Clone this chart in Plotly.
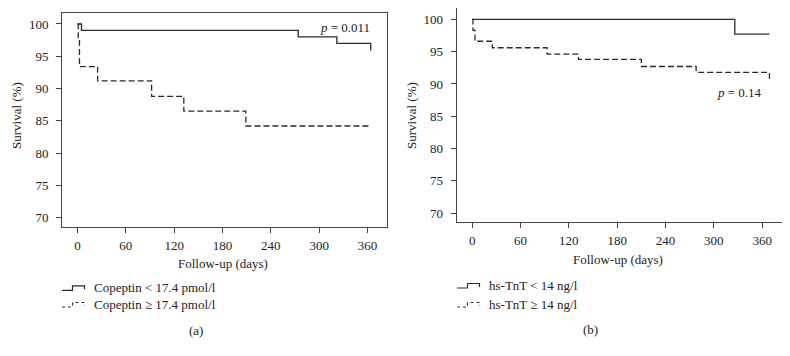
import plotly.graph_objects as go

# ---- data ----
# Panel (a): Copeptin
a_low_days = [0, 5, 274, 322, 364]
a_low_surv = [100, 99.0, 98.0, 97.0, 95.9]
a_high_days = [0, 1, 2.5, 25, 92, 132, 209, 364]
a_high_surv = [100, 97.8, 93.4, 91.2, 88.8, 86.5, 84.2, 84.2]

# Panel (b): hs-TnT
b_low_days = [0, 326, 369]
b_low_surv = [100, 97.7, 97.7]
b_high_days = [0, 1, 3.5, 25, 93, 132, 210, 278, 369]
b_high_surv = [100, 98.3, 96.6, 95.6, 94.6, 93.8, 92.7, 91.8, 90.8]

x_ticks = [0, 60, 120, 180, 240, 300, 360]
y_ticks = [70, 75, 80, 85, 90, 95, 100]

a_labels = ["Copeptin < 17.4 pmol/l", "Copeptin \u2265 17.4 pmol/l"]
b_labels = ["hs-TnT < 14 ng/l", "hs-TnT \u2265 14 ng/l"]
a_p = "<i>p</i> = 0.011"
b_p = "<i>p</i> = 0.14"

# page body has an 8px margin; size the figure to fill the rest of the window
OFF = 8
W, H = 790 - OFF, 356 - OFF
FONT = "Liberation Serif"
LC = "#2b2b2b"
DASH = "6px,3px"

def px(x):
    return (x - OFF) / W

def py(y):
    return 1 - (y - OFF) / H

fig = go.Figure()

for days, surv, dash, xa, ya in [
    (a_low_days, a_low_surv, "solid", "x", "y"),
    (a_high_days, a_high_surv, DASH, "x", "y"),
    (b_low_days, b_low_surv, "solid", "x2", "y2"),
    (b_high_days, b_high_surv, DASH, "x2", "y2"),
]:
    fig.add_trace(go.Scatter(
        x=days, y=surv, mode="lines", line_shape="hv",
        line=dict(color=LC, width=1.3, dash=dash),
        xaxis=xa, yaxis=ya, showlegend=False, hoverinfo="skip"))

axis_common = dict(
    showline=True, linecolor="#444", linewidth=1, mirror=True,
    ticks="outside", ticklen=5, tickcolor="#444", tickwidth=1,
    showgrid=False, zeroline=False,
    tickfont=dict(family=FONT, size=13, color="#222"),
)

fig.update_layout(
    width=W, height=H,
    margin=dict(l=0, r=0, t=0, b=0),
    paper_bgcolor="white", plot_bgcolor="white",
    xaxis=dict(domain=[px(62), px(387)], range=[-19.2, 384.2],
               tickvals=x_ticks, anchor="y", ticklabelstandoff=1, **axis_common),
    yaxis=dict(domain=[py(227), py(13)], range=[68.56, 101.7],
               tickvals=y_ticks, anchor="x", ticklabelstandoff=5, **axis_common),
    xaxis2=dict(domain=[px(456.7), px(781.7)], range=[-19.2, 384.2],
                tickvals=x_ticks, anchor="y2", ticklabelstandoff=1, **axis_common),
    yaxis2=dict(domain=[py(222.3), py(8.3)], range=[68.6, 101.7],
                tickvals=y_ticks, anchor="x2", ticklabelstandoff=5, **axis_common),
)

annots = []

def txt(x, y, s, size=13, xanchor="center", angle=0):
    annots.append(dict(x=px(x), y=py(y), xref="paper", yref="paper",
                       text=s, showarrow=False, xanchor=xanchor, yanchor="middle",
                       textangle=angle,
                       font=dict(family=FONT, size=size, color="#222")))

# axis titles
txt(17, 116, "Survival (%)", angle=-90)
txt(412, 116, "Survival (%)", angle=-90)
txt(223, 263, "Follow-up (days)")
txt(618, 259, "Follow-up (days)")
# p-values
txt(345, 27, a_p)
txt(739, 92.7, b_p)
# captions
txt(195.7, 330, "(a)")
txt(590.7, 329, "(b)")

shapes = []

def legend_entry(x0, y, label, dash):
    # small step symbol
    path = (f"M {px(x0)} {py(y + 3)} L {px(x0 + 10.5)} {py(y + 3)} "
            f"L {px(x0 + 10.5)} {py(y - 1.5)} L {px(x0 + 22.5)} {py(y - 1.5)} "
            f"L {px(x0 + 22.5)} {py(y + 2)}")
    shapes.append(dict(type="path", path=path, xref="paper", yref="paper",
                       line=dict(color=LC, width=1.2, dash=dash)))
    txt(x0 + 30, y, label, xanchor="left")

legend_entry(62, 287.3, a_labels[0], "solid")
legend_entry(62, 304, a_labels[1], "3px,3px")
legend_entry(457, 285, b_labels[0], "solid")
legend_entry(457, 304, b_labels[1], "3px,3px")

fig.update_layout(annotations=annots, shapes=shapes)

fig.write_html("out.html")
